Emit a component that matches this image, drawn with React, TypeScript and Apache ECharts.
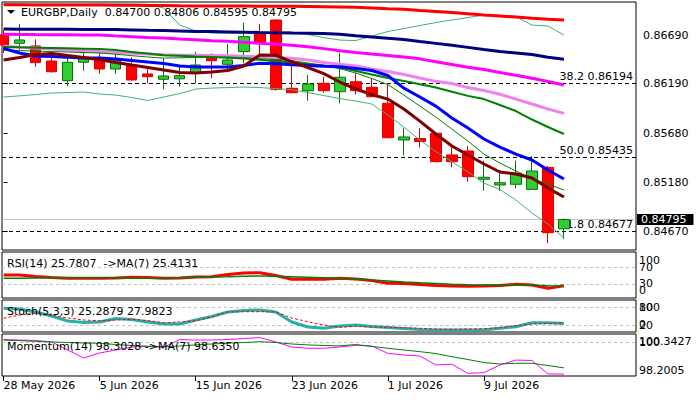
import React, { useEffect, useRef } from 'react';
import * as echarts from 'echarts';

const FONT = 'DejaVu Sans';

const dates = ['28 May 2026','29 May 2026','1 Jun 2026','2 Jun 2026','3 Jun 2026','4 Jun 2026','5 Jun 2026','8 Jun 2026','9 Jun 2026','10 Jun 2026','11 Jun 2026','12 Jun 2026','15 Jun 2026','16 Jun 2026','17 Jun 2026','18 Jun 2026','19 Jun 2026','22 Jun 2026','23 Jun 2026','24 Jun 2026','25 Jun 2026','26 Jun 2026','29 Jun 2026','30 Jun 2026','1 Jul 2026','2 Jul 2026','3 Jul 2026','6 Jul 2026','7 Jul 2026','8 Jul 2026','9 Jul 2026','10 Jul 2026','13 Jul 2026','14 Jul 2026','15 Jul 2026','16 Jul 2026'];
const xTickIdx = [0, 6, 12, 18, 24, 30];

const open = [0.86690,0.86605,0.86577,0.86423,0.86221,0.86410,0.86440,0.86341,0.86382,0.86290,0.86235,0.86240,0.86297,0.86457,0.86389,0.86519,0.86708,0.86844,0.86143,0.86118,0.86194,0.86108,0.86210,0.86153,0.85989,0.85612,0.85627,0.85681,0.85458,0.85499,0.85208,0.85150,0.85157,0.85105,0.85331,0.84700];
const high = [0.86741,0.86803,0.86646,0.86474,0.86461,0.86553,0.86543,0.86508,0.86461,0.86348,0.86451,0.86364,0.86519,0.86502,0.86598,0.86816,0.86803,0.86850,0.86382,0.86279,0.86262,0.86508,0.86303,0.86245,0.86194,0.85735,0.85732,0.85685,0.85543,0.85550,0.85399,0.85304,0.85399,0.85447,0.85345,0.84806];
const low = [0.86505,0.86536,0.86364,0.86303,0.86166,0.86323,0.86290,0.86290,0.86220,0.86194,0.86132,0.86159,0.86194,0.86245,0.86313,0.86399,0.86467,0.86118,0.86091,0.86015,0.86097,0.85989,0.86081,0.86050,0.85630,0.85453,0.85535,0.85385,0.85331,0.85183,0.85091,0.85088,0.85116,0.85098,0.84551,0.84595];
const close = [0.86587,0.86639,0.86406,0.86313,0.86410,0.86451,0.86341,0.86433,0.86228,0.86262,0.86269,0.86272,0.86382,0.86426,0.86433,0.86673,0.86611,0.86132,0.86097,0.86187,0.86118,0.86256,0.86118,0.86056,0.85635,0.85643,0.85596,0.85389,0.85389,0.85235,0.85229,0.85173,0.85270,0.85293,0.84660,0.84795];

const maRed = [0.87001,0.87000,0.86999,0.86999,0.86998,0.86998,0.86997,0.86996,0.86995,0.86994,0.86992,0.86990,0.86989,0.86988,0.86988,0.86987,0.86986,0.86985,0.86984,0.86982,0.86980,0.86978,0.86974,0.86967,0.86960,0.86954,0.86941,0.86931,0.86921,0.86908,0.86895,0.86885,0.86874,0.86861,0.86851,0.86844];
const maNavy = [0.86751,0.86750,0.86750,0.86749,0.86748,0.86747,0.86747,0.86746,0.86742,0.86738,0.86735,0.86731,0.86727,0.86725,0.86722,0.86719,0.86716,0.86714,0.86711,0.86709,0.86706,0.86698,0.86682,0.86669,0.86656,0.86643,0.86623,0.86604,0.86585,0.86563,0.86541,0.86520,0.86505,0.86489,0.86461,0.86440];
const maMagenta = [0.86697,0.86696,0.86694,0.86693,0.86692,0.86691,0.86690,0.86681,0.86673,0.86665,0.86658,0.86649,0.86641,0.86632,0.86625,0.86616,0.86604,0.86595,0.86585,0.86570,0.86550,0.86529,0.86510,0.86494,0.86479,0.86464,0.86445,0.86416,0.86387,0.86358,0.86336,0.86304,0.86276,0.86245,0.86213,0.86176];
const maViolet = [0.86575,0.86565,0.86556,0.86546,0.86537,0.86527,0.86518,0.86510,0.86502,0.86494,0.86486,0.86483,0.86481,0.86479,0.86477,0.86471,0.86465,0.86457,0.86451,0.86433,0.86407,0.86389,0.86371,0.86340,0.86316,0.86284,0.86248,0.86214,0.86192,0.86150,0.86120,0.86081,0.86032,0.85981,0.85930,0.85885];
const maGreen = [0.86566,0.86563,0.86560,0.86557,0.86554,0.86550,0.86546,0.86536,0.86515,0.86500,0.86483,0.86476,0.86469,0.86464,0.86457,0.86448,0.86435,0.86421,0.86407,0.86393,0.86377,0.86356,0.86320,0.86284,0.86248,0.86217,0.86184,0.86150,0.86108,0.86065,0.86032,0.85971,0.85909,0.85822,0.85745,0.85673];
const maGreenThin = [0.86536,0.86530,0.86525,0.86520,0.86515,0.86510,0.86505,0.86493,0.86478,0.86464,0.86453,0.86456,0.86459,0.86461,0.86463,0.86457,0.86446,0.86438,0.86427,0.86402,0.86376,0.86344,0.86299,0.86243,0.86181,0.86073,0.85960,0.85847,0.85724,0.85601,0.85467,0.85375,0.85293,0.85216,0.85159,0.85098];
const maBlue = [0.86551,0.86505,0.86474,0.86468,0.86461,0.86454,0.86453,0.86443,0.86429,0.86412,0.86397,0.86371,0.86361,0.86361,0.86361,0.86376,0.86400,0.86394,0.86384,0.86376,0.86369,0.86363,0.86346,0.86325,0.86274,0.86145,0.86053,0.85960,0.85837,0.85734,0.85622,0.85539,0.85467,0.85406,0.85303,0.85211];
const maMaroon = [0.86433,0.86459,0.86489,0.86500,0.86479,0.86459,0.86435,0.86407,0.86381,0.86356,0.86330,0.86304,0.86299,0.86310,0.86325,0.86371,0.86484,0.86482,0.86415,0.86356,0.86294,0.86207,0.86135,0.86079,0.86032,0.85930,0.85806,0.85673,0.85550,0.85457,0.85365,0.85283,0.85262,0.85221,0.85118,0.85026];
const bbUpper = [0.87010,0.87009,0.87008,0.87008,0.87007,0.87007,0.87008,0.87009,0.87008,0.87006,0.86967,0.86792,0.86731,0.86710,0.86710,0.86710,0.86713,0.86717,0.86720,0.86695,0.86664,0.86638,0.86633,0.86679,0.86726,0.86756,0.86787,0.86818,0.86844,0.86869,0.86895,0.86892,0.86880,0.86792,0.86782,0.86690];
const bbLower = [0.86053,0.86065,0.86079,0.86094,0.86099,0.86104,0.86084,0.86073,0.86048,0.86017,0.86053,0.86089,0.86135,0.86145,0.86150,0.86156,0.86150,0.86140,0.86127,0.86099,0.86068,0.86037,0.86012,0.85981,0.85868,0.85745,0.85611,0.85493,0.85389,0.85283,0.85170,0.85103,0.84995,0.84862,0.84749,0.84605];

const rsi = [51.5,51.5,47.9,45.5,43.6,43.6,43.6,44.3,46.0,45.5,43.6,44.3,46.7,47.4,52.7,56.3,57.0,50.3,41.2,41.2,41.2,43.6,41.9,38.3,31.6,31.1,28.7,26.3,25.1,24.4,25.1,26.3,29.2,27.5,19.6,25.7807];
const rsiMa = [43.6,43.8,44.3,44.8,45.0,45.0,45.0,44.3,43.6,43.6,43.6,44.8,46.0,46.7,47.4,48.4,49.1,48.4,47.2,46.0,44.8,43.6,41.9,39.5,37.1,34.7,32.8,31.1,29.2,28.3,27.5,27.5,27.5,26.8,25.9,25.4131];
const stochK = [76.6,74.2,64.1,50.5,33.6,28.5,30.2,42.0,38.6,30.2,23.4,23.4,36.9,48.8,64.1,69.2,70.8,64.1,30.2,13.2,8.8,16.6,20.0,14.9,11.5,8.1,4.7,3.1,3.1,3.1,3.1,8.8,14.2,27.8,27.8,25.2879];
const stochD = [42.7,53.9,59.7,53.9,43.7,36.9,34.6,36.9,39.3,35.3,27.8,30.2,34.6,47.1,64.1,65.1,65.1,64.1,43.7,31.2,20.0,12.2,15.6,13.2,12.2,10.5,8.8,6.4,5.4,6.4,7.5,10.8,18.3,23.4,25.1,27.9823];
const mom = [100.15,100.12,100.10,100.02,99.59,99.16,99.43,99.59,99.75,99.78,99.73,100.15,100.12,100.12,100.15,100.20,100.25,100.02,99.75,99.68,99.68,99.75,99.84,99.80,99.41,99.32,99.27,98.79,98.83,98.34,98.38,98.79,99.05,99.03,98.31,98.3028];
const momMa = [100.12,100.09,100.05,100.02,99.99,99.96,99.95,99.88,99.83,99.79,99.77,99.80,99.86,99.91,99.95,99.99,100.03,99.99,99.91,99.86,99.83,99.81,99.88,99.78,99.68,99.59,99.50,99.40,99.23,99.08,98.92,98.84,98.88,98.88,98.76,98.635];

const priceTicks = [0.8467, 0.8518, 0.8568, 0.8619, 0.8669];
const fibNames = ['38.2', '50.0', '61.8'];
const fibValues = [0.86194, 0.85435, 0.84677];
const bidPrice = 0.84795;
const rsiEdgeTicks = [0, 100];
const rsiLevels = [30, 70];
const stochEdgeTicks = [0, 100];
const stochLevels = [20, 80];
const momEdgeTicks = [98.2005, 100.3427];
const momLevels = [100];

const X_MIN = -0.1;
const X_MAX = 39.5;

const txt = { fontFamily: FONT, fontSize: 11, color: '#000' };

function line(data: number[], gi: number, yi: number, color: string, width: number, type: any = 'solid', z = 4): any {
  return {
    type: 'line', xAxisIndex: gi, yAxisIndex: yi,
    data: data.map((v, i) => [i, v]),
    showSymbol: false, symbol: 'none', silent: true, z,
    lineStyle: { color, width, type },
    emphasis: { disabled: true },
  };
}

function levels(vals: number[]): any {
  return {
    silent: true, symbol: ['none', 'none'], z: 1, precision: 6,
    lineStyle: { color: '#C0C0C0', type: [3, 3], width: 1 },
    label: { show: false },
    data: vals.map((v) => ({ yAxis: v })),
  };
}

const numFmt = (v: number) => String(parseFloat(v.toFixed(4)));

function edgeY(gi: number, min: number, max: number, ticks: number[]): any {
  const mx = Math.max(...ticks);
  return {
    gridIndex: gi, type: 'value', position: 'right', min, max,
    axisLine: { show: false }, axisTick: { show: false }, splitLine: { show: false },
    axisLabel: {
      ...txt, margin: 3, customValues: ticks, hideOverlap: false,
      formatter: (v: number) => (Math.abs(v - mx) < 1e-7 ? `{t|${numFmt(v)}}` : `{b|${numFmt(v)}}`),
      rich: {
        t: { ...txt, padding: [12, 0, 0, 0] },
        b: { ...txt, padding: [0, 0, 12, 0] },
      },
    },
  };
}

function levelY(gi: number, min: number, max: number, ticks: number[]): any {
  return {
    gridIndex: gi, type: 'value', position: 'right', min, max,
    axisLine: { show: false }, axisTick: { show: false }, splitLine: { show: false },
    axisLabel: { ...txt, margin: 3, customValues: ticks, hideOverlap: false, formatter: numFmt },
  };
}

export default function App() {
  const ref = useRef<HTMLDivElement>(null);
  useEffect(() => {
    const chart = echarts.init(ref.current!, null, { renderer: 'svg' });
    const last = dates.length - 1;
    const gridBase = { left: 2, width: 634, show: true, borderColor: '#000', borderWidth: 1, backgroundColor: 'transparent', outerBoundsMode: 'none' };
    const option: any = {
      animation: false,
      backgroundColor: '#fff',
      grid: [
        { ...gridBase, top: 2, height: 248 },
        { ...gridBase, top: 252, height: 46 },
        { ...gridBase, top: 300, height: 32 },
        { ...gridBase, top: 334, height: 42 },
      ],
      xAxis: [0, 1, 2, 3].map((gi) => ({
        type: 'value', gridIndex: gi, min: X_MIN, max: X_MAX, show: gi === 3,
        axisLine: { show: false }, splitLine: { show: false },
        axisTick: { show: gi === 3, length: 5, customValues: xTickIdx, lineStyle: { color: '#000' } },
        axisLabel: {
          show: gi === 3, ...txt, customValues: xTickIdx, align: 'left', margin: 4,
          formatter: (v: number) => dates[Math.round(v)] ?? '',
        },
      })),
      yAxis: [
        {
          gridIndex: 0, type: 'value', position: 'right', min: 0.8448195, max: 0.8702891,
          axisLine: { show: false }, splitLine: { show: false },
          axisTick: { show: true, length: 4, customValues: priceTicks, lineStyle: { color: '#000' } },
          axisLabel: { ...txt, margin: 7, customValues: priceTicks, formatter: (v: number) => v.toFixed(5) },
        },
        edgeY(1, -3.6, 106.6, rsiEdgeTicks),
        levelY(1, -3.6, 106.6, rsiLevels),
        edgeY(2, -3.7, 104.7, stochEdgeTicks),
        levelY(2, -3.7, 104.7, stochLevels),
        edgeY(3, 98.2005, 100.443, momEdgeTicks),
        levelY(3, 98.2005, 100.443, momLevels),
      ],
      series: [
        {
          type: 'candlestick', xAxisIndex: 0, yAxisIndex: 0, z: 3, silent: true,
          barWidth: 11,
          data: dates.map((_, i) => [i, open[i], close[i], low[i], high[i]]),
          itemStyle: { color: '#32CD32', color0: '#FF0000', borderColor: '#0A6E0A', borderColor0: '#E00000', borderWidth: 1 },
        },
        {
          ...line(bbLower, 0, 0, '#3CB371', 1),
          markLine: {
            silent: true, symbol: ['none', 'none'], z: 1, precision: 6,
            data: [
              ...fibValues.map((v, k) => ({
                yAxis: v,
                lineStyle: { color: '#000', type: [4, 3], width: 1 },
                label: { show: true, position: 'insideEndTop', formatter: `${fibNames[k]} ${v.toFixed(5)}`, distance: [3, 1], ...txt },
              })),
              {
                yAxis: bidPrice,
                lineStyle: { color: '#C0C0C0', type: 'solid', width: 1 },
                label: { show: true, position: 'end', formatter: bidPrice.toFixed(5), distance: 1, backgroundColor: '#000', padding: [0, 7, 0, 4], lineHeight: 11, ...txt, color: '#fff' },
              },
            ],
          },
        },
        line(bbUpper, 0, 0, '#3CB371', 1),
        line(maRed, 0, 0, '#FF0000', 3),
        line(maNavy, 0, 0, '#000080', 3),
        line(maMagenta, 0, 0, '#FF00FF', 3),
        line(maViolet, 0, 0, '#EE82EE', 3),
        line(maGreen, 0, 0, '#008000', 2),
        line(maGreenThin, 0, 0, '#008000', 1),
        line(maBlue, 0, 0, '#0000FF', 3),
        line(maMaroon, 0, 0, '#800000', 3),
        { ...line(rsi, 1, 1, '#FF0000', 3), markLine: levels(rsiLevels) },
        line(rsiMa, 1, 1, '#008000', 1.5),
        { ...line(stochK, 2, 3, '#20B2AA', 3), markLine: levels(stochLevels) },
        line(stochD, 2, 3, '#FF0000', 1, [3, 2]),
        { ...line(mom, 3, 5, '#FF00FF', 1), markLine: levels(momLevels) },
        line(momMa, 3, 5, '#008000', 1),
      ],
      graphic: [
        { type: 'polygon', z: 100, shape: { points: [[7, 10], [15, 10], [11, 14]] }, style: { fill: '#000' } },
        {
          type: 'text', z: 100, x: 21, y: 12.5,
          style: { text: `EURGBP,Daily  ${open[last].toFixed(5)} ${high[last].toFixed(5)} ${low[last].toFixed(5)} ${close[last].toFixed(5)}`, font: `11px "${FONT}"`, fill: '#000', textVerticalAlign: 'middle' },
        },
        {
          type: 'text', z: 100, x: 7, y: 263.5,
          style: { text: `RSI(14) ${rsi[last].toFixed(4)}  ->MA(7) ${rsiMa[last].toFixed(4)}`, font: `11px "${FONT}"`, fill: '#000', textVerticalAlign: 'middle' },
        },
        {
          type: 'text', z: 100, x: 7, y: 311.5,
          style: { text: `Stoch(5,3,3) ${stochK[last].toFixed(4)} ${stochD[last].toFixed(4)}`, font: `11px "${FONT}"`, fill: '#000', textVerticalAlign: 'middle' },
        },
        {
          type: 'text', z: 100, x: 7, y: 346,
          style: { text: `Momentum(14) ${mom[last].toFixed(4)} ->MA(7) ${momMa[last].toFixed(4)}`, font: `11px "${FONT}"`, fill: '#000', textVerticalAlign: 'middle' },
        },
      ],
    };
    chart.setOption(option);
    return () => chart.dispose();
  }, []);
  return <div ref={ref} style={{ position: 'absolute', left: 0, top: 0, width: 700, height: 400, background: '#fff' }} />;
}
